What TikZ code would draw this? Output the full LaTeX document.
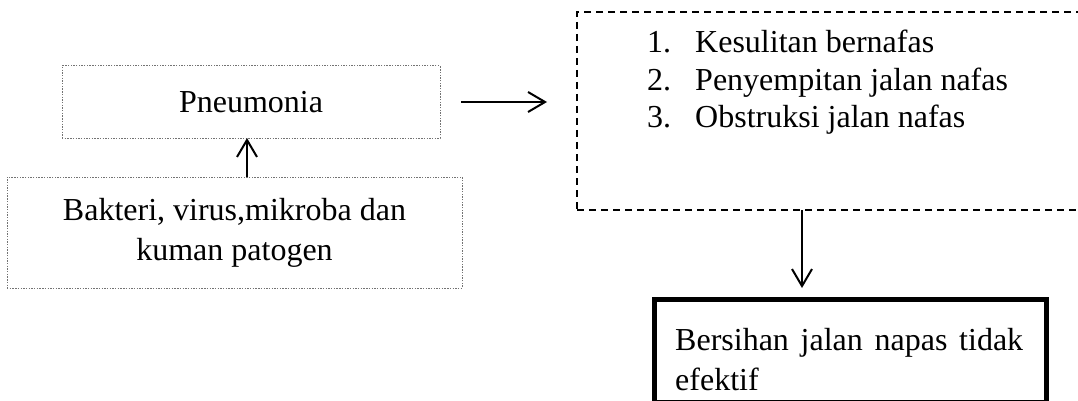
\documentclass[tikz,border=0pt]{standalone}
\usepackage{fontspec}
\setmainfont{Liberation Serif}
\usetikzlibrary{arrows.meta}

\tikzset{
  dotbox/.style={draw=black!55, line width=1pt, dash pattern=on 1.4pt off 1.3pt, inner sep=0pt, outer sep=0pt},
  dashbox/.style={draw, line width=1.5pt, dash pattern=on 7pt off 5pt, inner sep=0pt, outer sep=0pt},
  boldbox/.style={draw, line width=4.5pt, inner sep=0pt, outer sep=0pt},
  panah/.style={-{Straight Barb[length=17pt,width=20pt]}, line width=2pt},
  teks/.style={font=\fontsize{32}{40}\selectfont, inner sep=0pt},
}

\begin{document}
\begin{tikzpicture}[x=1pt,y=-1pt]
    \useasboundingbox (0,0) rectangle (1078,401);
    \clip (0,0) rectangle (1078,401);

    % Left boxes
    \node[dotbox, teks, minimum width=378pt, minimum height=72pt] (pneumonia) at (251,102) {Pneumonia};
    \node[dotbox, teks, align=center, minimum width=455pt, minimum height=111pt] (bakteri) at (234.5,232.5) {Bakteri, virus,mikroba dan\\kuman patogen};

    % Dashed box with the list
    \node[dashbox, minimum width=520pt, minimum height=198pt] (gejala) at (837,111) {};
    \foreach \n/\isi in {1/Kesulitan bernafas, 2/Penyempitan jalan nafas, 3/Obstruksi jalan nafas} {
        \node[teks, anchor=base west] (no\n) at (647,{53+37.5*(\n-1)}) {\n.};
        \node[teks, anchor=base west] (item\n) at (695,{53+37.5*(\n-1)}) {\isi};
    }

    % Bold box
    \node[boldbox, minimum width=392pt, minimum height=102.5pt] (masalah) at (850.5,350.75) {};
    \node[teks, anchor=north west, align=left] (masalahteks) at (675,328) {\makebox[348pt][s]{Bersihan jalan napas tidak}\\efektif};

    % Arrows
    \draw[panah] ([xshift=12.5pt]bakteri.north) -- ([xshift=12.5pt]bakteri.north |- pneumonia.south);
    \draw[panah, shorten <=21pt, shorten >=30pt] (pneumonia.east) -- (pneumonia.east -| gejala.west);
    \draw[panah, shorten >=11.5pt] ([xshift=-35pt]gejala.south) -- ([xshift=-35pt]gejala.south |- masalah.north);
\end{tikzpicture}
\end{document}
